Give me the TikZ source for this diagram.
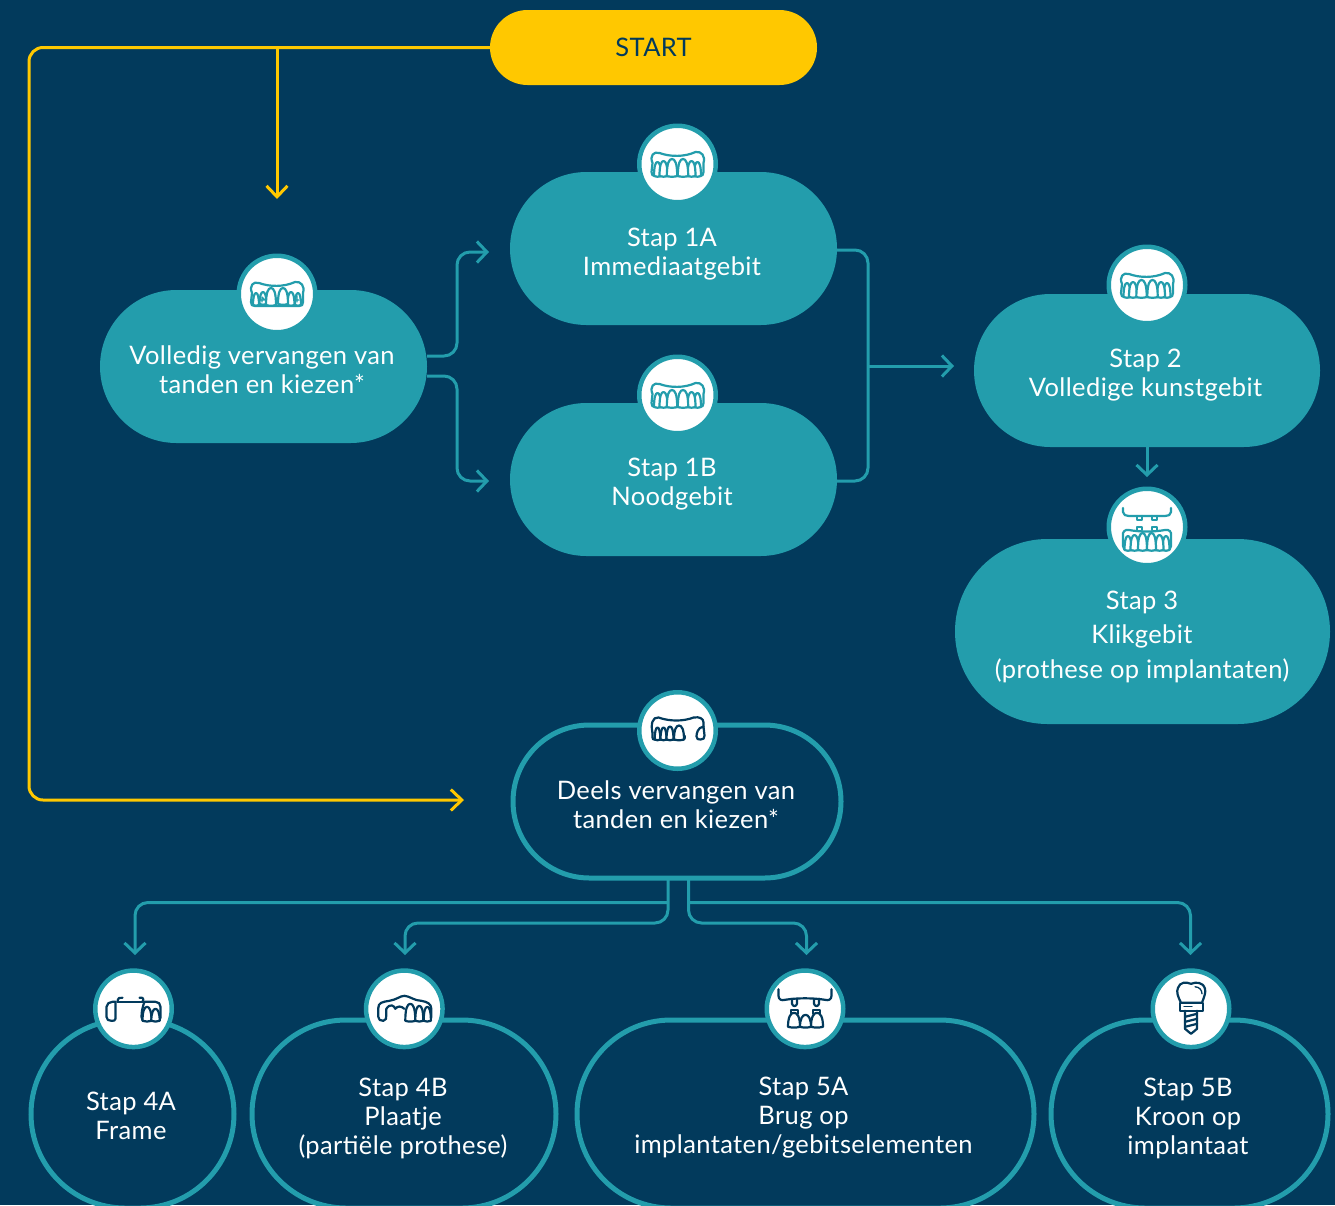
\documentclass[tikz,border=0pt]{standalone}
\usepackage{fontspec}
\setmainfont[LetterSpace=1.5]{Lato}
\usetikzlibrary{arrows.meta,shapes.misc}
\definecolor{bgnavy}{HTML}{023A5C}
\definecolor{tealc}{HTML}{239DAC}
\definecolor{yell}{HTML}{FFC800}
\newcommand\mytooth[4]{\draw[fill=white] ({#1-#2},#4) .. controls ({#1-#2},{#3+4}) and ({#1-0.55*#2},#3) .. (#1,#3) .. controls ({#1+0.55*#2},#3) and ({#1+#2},{#3+4}) .. ({#1+#2},#4) .. controls ({#1+0.4*#2},{#4+1}) and ({#1-0.4*#2},{#4+1}) .. cycle;}
\tikzset{
  pill/.style={rounded rectangle,inner sep=0pt,outer sep=0pt,minimum width=#1},
  solidpill/.style={pill=#1,fill=tealc,minimum height=153pt},
  ringpill/.style={pill=#1,draw=tealc,line width=5pt,fill=bgnavy},
  lab/.style={text=white,align=center,font=\fontsize{25.5}{29}\selectfont,inner sep=0pt},
  iconring/.style={circle,fill=white,draw=tealc,line width=4.5pt,minimum size=76.5pt,inner sep=0pt,outer sep=0pt},
  tealline/.style={draw=tealc,line width=3pt,rounded corners=13pt,-{Straight Barb[length=10pt,width=21pt,line width=3pt]}},
  tealplain/.style={draw=tealc,line width=3pt,rounded corners=13pt},
  yellline/.style={draw=yell,line width=3pt,rounded corners=14pt,-{Straight Barb[length=11pt,width=21pt,line width=3pt]}},
  icn/.style={line width=2.2pt,line join=round,line cap=round},
  pics/fullteeth/.style={code={
    \draw[icn] (-25,-1) .. controls (-28,-8) and (-24,-13) .. (-18,-11) .. controls (-7,-7) and (7,-7) .. (18,-12) .. controls (24,-13) and (28,-8) .. (26,-1) -- (26,8) .. controls (26,11) and (25,12) .. (22,12) -- (-22,12) .. controls (-25,12) and (-26,11) .. (-26,8) -- cycle;
    \begin{scope}[icn]
    \mytooth{-20}{3.5}{-2}{12}\mytooth{20}{3.5}{-2}{12}
    \mytooth{-14}{4}{-3}{12}\mytooth{14}{4}{-3}{12}
    \mytooth{-5.5}{5.2}{-5}{12}\mytooth{5.5}{5.2}{-5}{12}
    \end{scope}
  }},
  pics/wornteeth/.style={code={
    \draw[icn] (-25,-1) .. controls (-28,-8) and (-24,-13) .. (-18,-11) .. controls (-7,-7) and (7,-7) .. (18,-12) .. controls (24,-13) and (28,-8) .. (26,-1) -- (26,8) .. controls (26,11) and (25,12) .. (22,12) -- (-22,12) .. controls (-25,12) and (-26,11) .. (-26,8) -- cycle;
    \begin{scope}[icn]
    \mytooth{-21}{3}{-1}{11}\mytooth{21}{3}{-1}{11}
    \mytooth{-14}{3.5}{-2}{10}\mytooth{14}{3.5}{-2}{11}
    \mytooth{-6}{5}{-6}{11}\mytooth{6}{5}{-6}{10}
    \end{scope}
    \draw[icn,line width=1.2pt] (-15,8) -- (-15,3) -- (-12,6) (-18,6) -- (-12,6) (20,2) -- (20,8) (17,6) -- (22,6);
  }},
  pics/klikteeth/.style={code={
    \draw[icn] (-24,-19) -- (-24,-15) .. controls (-24,-12) and (-21,-11) .. (-18,-11) -- (18,-11) .. controls (21,-11) and (24,-12) .. (24,-15) -- (24,-19);
    \draw[icn] (-10,-11) -- (-10,-7) -- (-5,-7) -- (-5,-11) (5,-11) -- (5,-7) -- (10,-7) -- (10,-11);
    \draw[icn] (-10,4) -- (-10,0) -- (-5,0) -- (-5,3) (5,3) -- (5,0) -- (10,0) -- (10,4);
    \draw[icn] (-24,9) .. controls (-25,5) and (-22,2) .. (-18,3) .. controls (-7,5) and (7,5) .. (18,3) .. controls (22,2) and (25,5) .. (24,9) -- (24,19) .. controls (24,22) and (22,23) .. (20,23) -- (-20,23) .. controls (-22,23) and (-24,22) .. (-24,19) -- cycle;
    \begin{scope}[icn]
    \mytooth{-19}{3.5}{9}{23}\mytooth{19}{3.5}{9}{23}
    \mytooth{-12.5}{4}{8}{23}\mytooth{12.5}{4}{8}{23}
    \mytooth{-4.5}{4.5}{6}{23}\mytooth{4.5}{4.5}{6}{23}
    \end{scope}
  }},
  pics/deelsteeth/.style={code={
    \draw[icn] (-25,2) .. controls (-27,-6) and (-25,-14) .. (-19,-13) .. controls (-8,-9) and (6,-9) .. (16,-13) .. controls (22,-14) and (26,-12) .. (26,-8) -- (26,-4);
    \draw[icn] (-25,2) -- (-25,7) .. controls (-25,9) and (-24,9) .. (-23,9) -- (4,9) .. controls (7,9) and (8,8) .. (7,5);
    \draw[icn] (26,-4) .. controls (20,-3) and (19,3) .. (19,6) .. controls (19,9) and (21,9) .. (23,9) .. controls (26,9) and (27,8) .. (27,5) -- (26,-4);
    \begin{scope}[icn]
    \mytooth{-20}{2.8}{-3}{9}\mytooth{-14}{3}{-3}{9}
    \mytooth{-7.5}{3.5}{-4}{9}\mytooth{1.5}{5}{-5}{9}
    \end{scope}
  }},
  pics/frameteeth/.style={code={
    \draw[icn] (-16,-7) -- (9,-7);
    \draw[icn] (-16,-7) .. controls (-16,-11) and (-13,-12) .. (-11,-11);
    \draw[icn] (6,-11) .. controls (9,-12) and (11,-10) .. (9,-7);
    \draw[icn] (-21,-7) -- (-18,-7) -- (-18,10) .. controls (-18,12) and (-20,12) .. (-22,12) .. controls (-25,12) and (-27,11) .. (-27,8) -- (-27,-2) .. controls (-27,-5) and (-24,-7) .. (-21,-7);
    \draw[icn] (11,-7) -- (22,-7) .. controls (25,-7) and (27,-5) .. (27,-2) -- (27,9) .. controls (27,11) and (25,12) .. (23,12) -- (11,12) .. controls (9,12) and (8,10) .. (8,8) .. controls (8,3) and (9,-2) .. (11,-7);
    \begin{scope}[icn]
    \mytooth{13.5}{4.5}{-2}{12}\mytooth{22}{4.2}{0}{12}
    \end{scope}
  }},
  pics/plateteeth/.style={code={
    \draw[icn] (-26,-1) .. controls (-26,-6) and (-22,-7) .. (-15,-8) .. controls (-8,-9) and (-4,-13) .. (0,-13) .. controls (5,-13) and (10,-8) .. (17,-8) .. controls (23,-7) and (27,-5) .. (27,0) -- (27,8) .. controls (27,11) and (26,12) .. (24,12) -- (2,12);
    \draw[icn] (-26,-1) -- (-26,8) .. controls (-26,11) and (-24,12) .. (-21,12) .. controls (-18,12) and (-18,9) .. (-18,6) -- (-18,0);
    \draw[icn] (-18,0) .. controls (-14,-6) and (-10,-3) .. (-9,0) .. controls (-7,-3) and (-3,-3) .. (0,0);
    \begin{scope}[icn]
    \mytooth{6}{5}{-5}{12}\mytooth{15}{4}{-3}{12}\mytooth{23}{3.6}{-2}{12}
    \end{scope}
  }},
  pics/bridgeteeth/.style={code={
    \draw[icn] (-26.5,-19.5) -- (-26.5,-13) .. controls (-26.5,-9) and (-23,-8) .. (-20,-9) .. controls (-8,-11) and (8,-11) .. (20,-9) .. controls (23,-8) and (26.5,-9) .. (26.5,-13) -- (26.5,-19.5);
    \draw[icn] (-13,-10) -- (-13,-5) .. controls (-12,-2) and (-9,-2) .. (-8,-5) -- (-8,-10);
    \draw[icn] (9,-10) -- (9,-5) .. controls (10,-2) and (13,-2) .. (14,-5) -- (14,-10);
    \draw[icn] (-14,5) -- (-14,1) -- (-7,1) -- (-7,5);
    \draw[icn] (8,5) -- (8,1) -- (15,1) -- (15,5);
    \begin{scope}[icn]
    \mytooth{-11}{6}{4}{18}\mytooth{12}{6}{4}{18}\mytooth{0.5}{5.5}{6}{18}
    \end{scope}
  }},
  pics/implant/.style={code={
    \draw[icn] (-10,-6) .. controls (-13,-12) and (-15,-17) .. (-13,-21) .. controls (-11,-27) and (-5,-27) .. (0,-25) .. controls (5,-27) and (12,-27) .. (14,-20) .. controls (15,-16) and (13,-12) .. (11,-6) -- cycle;
    \draw[icn,line width=1.3pt] (4,-22) .. controls (8,-22) and (11,-19) .. (11,-15);
    \draw[icn] (-11,-6) rectangle (12,2);
    \draw[icn,line width=1.3pt] (-7,-2) -- (1,-2);
    \draw[icn] (-6,2) -- (-6,20) -- (0,25) -- (6,20) -- (6,2);
    \draw[icn] (-6,8) -- (6,5) (-6,13) -- (6,10) (-6,18) -- (6,15);
  }}
}
\begin{document}
\begin{tikzpicture}[x=1pt,y=-1pt]
\useasboundingbox (0,0) rectangle (1335,1205);
\clip (0,0) rectangle (1335,1205);
\fill[bgnavy] (0,0) rectangle (1335,1205);

% main shapes
\node[pill=327pt,fill=yell,minimum height=75pt,text=bgnavy,font=\fontsize{25.5}{29}\selectfont] (start) at (653.5,47.5) {START};
\node[solidpill=327pt] (vol) at (263.5,366.5) {};
\node[solidpill=327pt] (s1a) at (673.5,248.5) {};
\node[solidpill=327pt] (s1b) at (673.5,479.5) {};
\node[solidpill=346pt] (s2) at (1147,370.5) {};
\node[pill=375pt,fill=tealc,minimum height=185pt] (s3) at (1142.5,631.5) {};
\node[ringpill=328pt,minimum height=153pt] (deels) at (677,801.5) {};
\node[ringpill=203pt,minimum height=188pt] (s4a) at (132.5,1114) {};
\node[ringpill=304pt,minimum height=188pt] (s4b) at (404,1114) {};
\node[ringpill=457pt,minimum height=188pt] (s5a) at (805.5,1114) {};
\node[ringpill=277pt,minimum height=188pt] (s5b) at (1189.5,1114) {};

% free ends and bends
\coordinate (yTurn) at (29,800);
\coordinate (yBranch) at (277,47.5);
\coordinate (yDown) at (277,199);
\coordinate (yIn) at (464,800);
\coordinate (volA) at (427,356);
\coordinate (volB) at (427,376);
\coordinate (bendA) at (457,252);
\coordinate (bendB) at (457,481);
\coordinate (inA) at (489,252);
\coordinate (inB) at (489,481);
\coordinate (outA) at (837,250);
\coordinate (outB) at (837,481);
\coordinate (bus) at (868,366);
\coordinate (in2) at (954,366);
\coordinate (dL) at (668,879);
\coordinate (dR) at (688.5,879);
\coordinate (hLL) at (135,902.5);
\coordinate (hRR) at (1190.5,902.5);
\coordinate (hL) at (405,923);
\coordinate (hR) at (806.5,923);
\coordinate (in4a) at (135,955);
\coordinate (in4b) at (405,955);
\coordinate (in5a) at (806.5,955);
\coordinate (in5b) at (1190.5,955);
\coordinate (y2) at (1147,477);

% connectors
\draw[yellline] (start.west) -- (yTurn |- start.west) -- (yTurn) -- (yIn);
\draw[yellline] (yBranch) -- (yDown);
\draw[tealline] (volA) -| (bendA) -- (inA);
\draw[tealline] (volB) -| (bendB) -- (inB);
\draw[tealplain] (outA) -| (bus) |- (outB);
\draw[tealline,rounded corners=0pt] (bus) -- (in2);
\draw[tealline,rounded corners=0pt] (s2.south) -- (y2);
\draw[tealline] (dL |- hLL) -- (hLL) -- (in4a);
\draw[tealline] (dL) -- (dL |- hL) -- (hL) -- (in4b);
\draw[tealline] (dR) -- (dR |- hR) -- (hR) -- (in5a);
\draw[tealline] (dR |- hRR) -- (hRR) -- (in5b);

% labels
\node[lab] (tvol) at (262,369.5) {Volledig vervangen van\\tanden en kiezen*};
\node[lab] (t1a) at (672,254) {Stap 1A\\Immediaatgebit};
\node[lab] (t1b) at (672,484.5) {Stap 1B\\Noodgebit};
\node[lab] (t2) at (1145.5,375) {Stap 2\\Volledige kunstgebit};
\node[lab,font=\fontsize{25.5}{34.5}\selectfont] (t3) at (1142,636.5) {Stap 3\\Klikgebit\\(prothese op implantaten)};
\node[lab] (tdeels) at (676,805) {Deels vervangen van\\tanden en kiezen*};
\node[lab] (t4a) at (131,1116) {Stap 4A\\Frame};
\node[lab] (t4b) at (403,1118) {Stap 4B\\Plaatje\\(partiële prothese)};
\node[lab] (t5a) at (803.5,1118) {Stap 5A\\Brug op\\implantaten/gebitselementen};
\node[lab] (t5b) at (1188,1118) {Stap 5B\\Kroon op\\implantaat};

% icon discs
\node[iconring] (ivol) at (277,294) {};
\node[iconring] (i1a) at (677.5,164) {};
\node[iconring] (i1b) at (677.5,395) {};
\node[iconring] (i2) at (1147,285) {};
\node[iconring] (i3) at (1147,527) {};
\node[iconring] (ideels) at (677.5,730.5) {};
\node[iconring] (i4a) at (133.5,1008.8) {};
\node[iconring] (i4b) at (404.3,1008.8) {};
\node[iconring] (i5a) at (805,1008.8) {};
\node[iconring] (i5b) at (1191,1008.8) {};

\pic[draw=tealc] at (ivol) {wornteeth};
\pic[draw=tealc] at (i1a) {fullteeth};
\pic[draw=tealc] at (i1b) {fullteeth};
\pic[draw=tealc] at (i2) {fullteeth};
\pic[draw=tealc] at (i3) {klikteeth};
\pic[draw=bgnavy] at (ideels) {deelsteeth};
\pic[draw=bgnavy] at (i4a) {frameteeth};
\pic[draw=bgnavy] at (i4b) {plateteeth};
\pic[draw=bgnavy] at (i5a) {bridgeteeth};
\pic[draw=bgnavy] at (i5b) {implant};
\end{tikzpicture}
\end{document}
